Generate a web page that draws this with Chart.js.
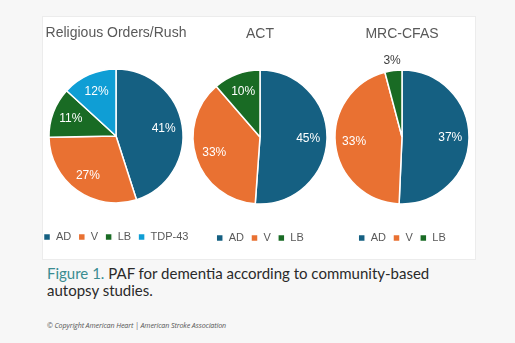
<!DOCTYPE html>
<html>
<head>
<meta charset="utf-8">
<script src="https://cdn.jsdelivr.net/npm/chart.js@4/dist/chart.umd.min.js"></script>
<style>
  html, body { margin: 0; padding: 0; }
  body { width: 515px; height: 343px; background: #f7f7f7; position: relative; overflow: hidden; }
  .panel { position: absolute; left: 42px; top: 16px; width: 432px; height: 242px; background: #fff; border: 1px solid #ececec; }
  .pie { position: absolute; }
  .caption { position: absolute; left: 47px; top: 265px; width: 420px; font-family: Lato, "Open Sans", sans-serif; font-size: 15px; line-height: 16.5px; color: #2a2a2a; }
  .caption b { font-weight: normal; color: #3a8c91; }
  .copy { position: absolute; left: 47px; top: 320px; font-family: "Open Sans", sans-serif; font-style: italic; font-size: 7.1px; letter-spacing: -0.1px; color: #555; }
</style>
</head>
<body>
<div class="panel"></div>
<canvas id="pieRush" class="pie" width="176" height="242" style="left:28px; top:15px"></canvas>
<canvas id="pieAct" class="pie" width="176" height="242" style="left:172px; top:16px"></canvas>
<canvas id="pieCfas" class="pie" width="176" height="242" style="left:314px; top:16px"></canvas>
<div class="caption"><b>Figure 1.</b> PAF for dementia according to community-based autopsy studies.</div>
<div class="copy">© Copyright American Heart | American Stroke Association</div>

<script>
// study names and their percentage breakdowns
const rushTitle = 'Religious Orders/Rush';
const actTitle = 'ACT';
const cfasTitle = 'MRC-CFAS';

const rushLabels = ['AD', 'V', 'LB', 'TDP-43'];
const rushValues = [41, 27, 11, 12];

const actLabels = ['AD', 'V', 'LB'];
const actValues = [45, 33, 10];

const cfasLabels = ['AD', 'V', 'LB'];
const cfasValues = [37, 33, 3];

const SLICE_COLORS = ['#156082', '#e97132', '#196b24', '#0f9ed5'];
const FONT = '"Liberation Sans", Arial, sans-serif';

// percent labels: inside the slice in white, small slices pushed outside
const sliceLabels = {
  id: 'sliceLabels',
  afterDatasetsDraw(chart) {
    const ctx = chart.ctx;
    const meta = chart.getDatasetMeta(0);
    const data = chart.data.datasets[0].data;
    const total = data.reduce((a, b) => a + b, 0);
    ctx.save();
    ctx.font = '12px ' + FONT;
    ctx.textAlign = 'center';
    ctx.textBaseline = 'middle';
    meta.data.forEach((arc, i) => {
      const p = arc.getProps(['x', 'y', 'startAngle', 'endAngle', 'outerRadius'], true);
      const mid = (p.startAngle + p.endAngle) / 2;
      const small = data[i] / total < 0.05;
      const r = small ? p.outerRadius + 10 : p.outerRadius * 0.72;
      ctx.fillStyle = small ? '#404040' : '#ffffff';
      ctx.fillText(data[i] + '%', p.x + Math.cos(mid) * r, p.y + Math.sin(mid) * r);
    });
    ctx.restore();
  }
};

function makePie(id, title, labels, values) {
  return new Chart(document.getElementById(id), {
    type: 'pie',
    data: {
      labels: labels,
      datasets: [{
        data: values,
        backgroundColor: SLICE_COLORS.slice(0, values.length),
        borderColor: '#ffffff',
        borderWidth: 1.5,
        radius: 67
      }]
    },
    options: {
      responsive: false,
      animation: false,
      layout: { padding: { bottom: 4.5 } },
      plugins: {
        title: {
          display: true,
          text: title,
          color: '#595959',
          font: { family: FONT, size: 14, weight: 'normal' },
          padding: { top: 10, bottom: 5.7 }
        },
        legend: {
          position: 'bottom',
          labels: {
            color: '#595959',
            font: { family: FONT, size: 11 },
            boxWidth: 7,
            boxHeight: 7,
            padding: 7
          }
        },
        tooltip: { enabled: false }
      }
    },
    plugins: [sliceLabels]
  });
}

makePie('pieRush', rushTitle, rushLabels, rushValues);
makePie('pieAct', actTitle, actLabels, actValues);
makePie('pieCfas', cfasTitle, cfasLabels, cfasValues);
</script>
</body>
</html>
